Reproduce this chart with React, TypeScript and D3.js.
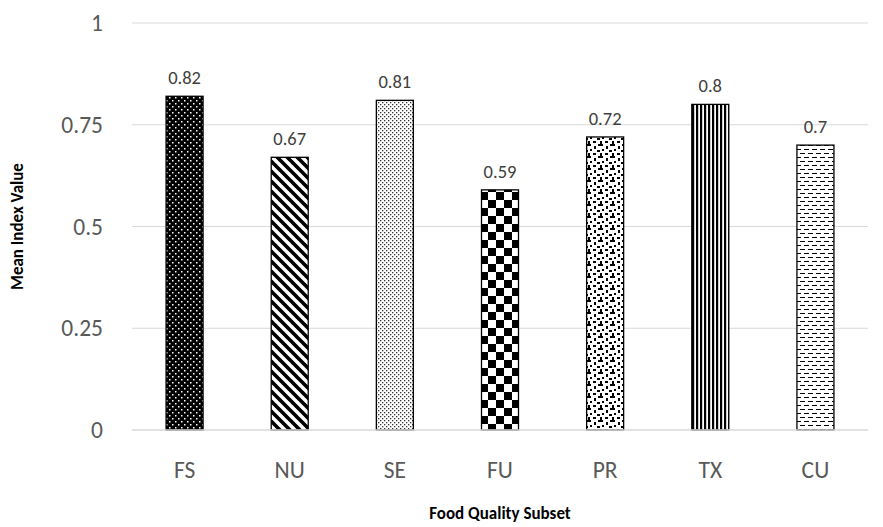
import React from "react";
import * as d3 from "d3";

const categories = ["FS", "NU", "SE", "FU", "PR", "TX", "CU"];
const values = [0.82, 0.67, 0.81, 0.59, 0.72, 0.8, 0.7];
const valueLabels = ["0.82", "0.67", "0.81", "0.59", "0.72", "0.8", "0.7"];
const yTicks = [0, 0.25, 0.5, 0.75, 1];
const yTickLabels = ["0", "0.25", "0.5", "0.75", "1"];
const patternIds = ["pFS", "pNU", "pSE", "pFU", "pPR", "pTX", "pCU"];

const W = 883;
const H = 527;
const FONT = "Carlito, Calibri, 'Open Sans', sans-serif";

export default function App() {
  const x = d3.scaleBand<string>().domain(categories).range([132, 868]).paddingInner(0.64).paddingOuter(0.32);
  const y = d3.scaleLinear().domain([0, 1]).range([430, 23]);
  const bw = 37;

  return (
    <svg width={W} height={H} style={{ position: "absolute", left: 0, top: 0 }}>
      <defs>
        <pattern id="pFS" width="6" height="6" patternUnits="userSpaceOnUse">
          <rect width="6" height="6" fill="#000" />
          <rect x="1" y="1" width="1.5" height="1.5" fill="#fff" />
          <rect x="4" y="4" width="1.5" height="1.5" fill="#fff" />
        </pattern>
        <pattern id="pNU" width="10" height="10" patternUnits="userSpaceOnUse">
          <rect width="10" height="10" fill="#fff" />
          <path d="M-2,-2 L12,12 M-7,3 L3,13 M3,-7 L13,3" stroke="#000" strokeWidth="3.6" />
        </pattern>
        <pattern id="pSE" width="4" height="4" patternUnits="userSpaceOnUse">
          <rect width="4" height="4" fill="#fff" />
          <rect x="0" y="0" width="1.3" height="1.3" fill="#333" />
          <rect x="2" y="2" width="1.3" height="1.3" fill="#333" />
        </pattern>
        <pattern id="pFU" width="16" height="16" patternUnits="userSpaceOnUse">
          <rect width="16" height="16" fill="#fff" />
          <rect x="0" y="0" width="8" height="8" fill="#000" />
          <rect x="8" y="8" width="8" height="8" fill="#000" />
        </pattern>
        <pattern id="pPR" width="12" height="12" patternUnits="userSpaceOnUse">
          <rect width="12" height="12" fill="#fff" />
          <rect x="0" y="0" width="3" height="2" fill="#000" />
          <rect x="6" y="2" width="2" height="3" fill="#000" />
          <rect x="2" y="5" width="2" height="2" fill="#000" />
          <rect x="9" y="6" width="3" height="2" fill="#000" />
          <rect x="5" y="9" width="3" height="2" fill="#000" />
          <rect x="0" y="9" width="2" height="3" fill="#000" />
          <rect x="10" y="0" width="2" height="2" fill="#000" />
        </pattern>
        <pattern id="pTX" width="4" height="4" patternUnits="userSpaceOnUse">
          <rect width="4" height="4" fill="#fff" />
          <rect x="0" y="0" width="2.2" height="4" fill="#000" />
        </pattern>
        <pattern id="pCU" width="8" height="8" patternUnits="userSpaceOnUse">
          <rect width="8" height="8" fill="#fff" />
          <rect x="0" y="1" width="5" height="1" fill="#000" />
          <rect x="4" y="5" width="5" height="1" fill="#000" />
          <rect x="-4" y="5" width="5" height="1" fill="#000" />
        </pattern>
      </defs>

      {yTicks.map((t, i) => (
        <g key={i}>
          {t > 0 && (
            <line x1={132} x2={868} y1={y(t)} y2={y(t)} stroke="#d9d9d9" strokeWidth={1} />
          )}
          <text x={103} y={y(t)} dy="0.35em" textAnchor="end" fontFamily={FONT} fontSize={23.5} fill="#595959">
            {yTickLabels[i]}
          </text>
        </g>
      ))}

      {categories.map((c, i) => {
        const cx = (x(c) as number) + x.bandwidth() / 2;
        return (
          <g key={c}>
            <rect
              x={cx - bw / 2}
              y={y(values[i])}
              width={bw}
              height={y(0) - y(values[i])}
              fill={`url(#${patternIds[i]})`}
              stroke="#000"
              strokeWidth={1.3}
            />
            <text x={cx} y={y(values[i]) - 12} textAnchor="middle" fontFamily={FONT} fontSize={18.5} fill="#404040">
              {valueLabels[i]}
            </text>
            <text x={cx} y={478} textAnchor="middle" fontFamily={FONT} fontSize={23.5} fill="#595959">
              {c}
            </text>
          </g>
        );
      })}

      <line x1={132} x2={868} y1={y(0)} y2={y(0)} stroke="#d9d9d9" strokeWidth={1.3} />

      <text x={500} y={519} textAnchor="middle" fontFamily={FONT} fontSize={17} fontWeight="bold" fill="#000">
        Food Quality Subset
      </text>
      <text
        transform={`translate(23, ${y(0.5)}) rotate(-90)`}
        textAnchor="middle"
        fontFamily={FONT}
        fontSize={17}
        fontWeight="bold"
        fill="#000"
      >
        Mean Index Value
      </text>
    </svg>
  );
}
